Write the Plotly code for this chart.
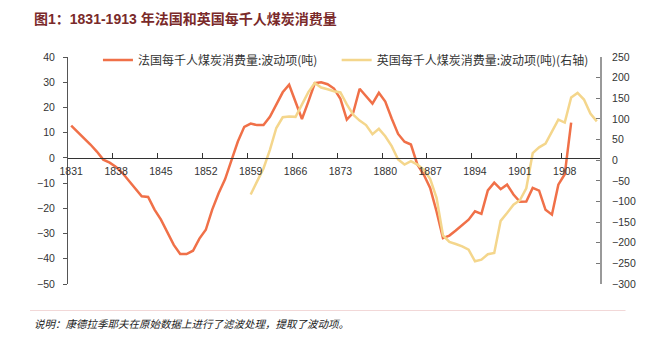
import plotly.graph_objects as go

years_fr = list(range(1831, 1910))
france = [12.8, 10.3, 8.0, 5.3, 2.5, -0.7, -1.9, -3.6, -6.0, -9.0,
          -12.0, -15.2, -15.5, -20.5, -24.5, -29.5, -34.5, -38.1, -38.1, -36.8,
          -32.0, -28.5, -20.5, -14.0, -8.5, -1.0, 6.5, 12.3, 13.6, 13.0,
          13.0, 16.3, 21.0, 26.0, 29.0, 22.3, 15.4, 22.3, 29.6, 30.0,
          29.2, 27.5, 23.4, 15.2, 17.9, 27.4, 24.5, 21.5, 25.8, 22.3,
          15.6, 9.5, 6.4, 5.3, -2.6, -6.6, -11.9, -21.2, -31.8, -30.8,
          -28.8, -26.8, -24.5, -21.2, -22.2, -12.9, -9.8, -12.4, -10.6, -14.5,
          -17.4, -17.3, -11.9, -13.0, -20.6, -22.5, -10.6, -6.5, 14.0]

years_uk = list(range(1859, 1914))
britain = [-83, -52, -20, 25, 78, 104, 106, 105, 135, 165,
           187, 176, 172, 167, 164, 135, 110, 96, 85, 63,
           76, 58, 34, 1.5, -10.7, -2.6, -10.7, -23, -45, -91,
           -182, -198, -203, -209, -217, -245, -241, -228, -225, -147,
           -128, -108, -97, -68, 17, 31, 40, 68, 98, 91,
           152, 163, 147, 113, 94]

tick_years = [1831, 1838, 1845, 1852, 1859, 1866, 1873, 1880, 1887, 1894, 1901, 1908]
left_ticks = [40, 30, 20, 10, 0, -10, -20, -30, -40, -50]
right_ticks = [250, 200, 150, 100, 50, 0, -50, -100, -150, -200, -250, -300]

name_fr = "法国每千人煤炭消费量:波动项(吨)"
name_uk = "英国每千人煤炭消费量:波动项(吨)(右轴)"
title_text = "图1：1831-1913 年法国和英国每千人煤炭消费量"
note_text = "说明：康德拉季耶夫在原始数据上进行了滤波处理，提取了波动项。"

FR_COLOR = "#F07048"
UK_COLOR = "#F4D68C"
CJK = "Liberation Sans, Noto Sans CJK SC, sans-serif"

x_lo, x_hi = tick_years[0] - 0.5, years_uk[-1] + 0.5
y_lo, y_hi = left_ticks[-1], left_ticks[0]
zero_pos = (0 - y_lo) / (y_hi - y_lo)

fig = go.Figure()
fig.add_trace(go.Scatter(x=years_fr, y=france, name=name_fr, mode="lines",
                         legend="legend", line=dict(color=FR_COLOR, width=2.5)))
fig.add_trace(go.Scatter(x=years_uk, y=britain, name=name_uk, mode="lines",
                         legend="legend2", yaxis="y2",
                         line=dict(color=UK_COLOR, width=2.5)))
# helper trace for the boundary tick-mark axis
fig.add_trace(go.Scatter(x=[tick_years[0]], y=[None], xaxis="x2", yaxis="y",
                         showlegend=False, hoverinfo="skip", mode="lines"))

leg_common = dict(orientation="h", y=0.987, xanchor="left", yanchor="middle",
                  font=dict(size=12, color="#333333", family="Noto Sans CJK SC"),
                  bgcolor="rgba(0,0,0,0)", borderwidth=0)

fig.update_layout(
    width=656, height=344,
    margin=dict(l=68, r=55.5, t=57, b=60),
    paper_bgcolor="white", plot_bgcolor="white",
    font=dict(family=CJK, color="#333333"),
    showlegend=True,
    legend=dict(x=0.0563, **leg_common),
    legend2=dict(x=0.505, **leg_common),
    xaxis=dict(range=[x_lo, x_hi], anchor="free", position=zero_pos,
               tickvals=tick_years, ticktext=[str(t) for t in tick_years],
               ticks="", showline=True, linecolor="#333333", linewidth=1,
               showgrid=False, zeroline=False,
               tickfont=dict(size=10.5, color="#333333", family="Liberation Sans"),
               ticklabelstandoff=4),
    xaxis2=dict(range=[x_lo, x_hi], anchor="free", position=zero_pos, overlaying="x",
                tickvals=[t - 0.5 for t in tick_years[1:]], ticks="inside", ticklen=5,
                tickcolor="#333333", showticklabels=False, showline=False,
                showgrid=False, zeroline=False),
    yaxis=dict(range=[y_lo, y_hi], tickvals=left_ticks, showline=True,
               linecolor="#555555", linewidth=1, ticks="outside", ticklen=4,
               tickcolor="#555555", showgrid=False, zeroline=False,
               tickfont=dict(size=10.5, color="#333333", family="Liberation Sans"),
               ticklabelstandoff=6),
    yaxis2=dict(range=[right_ticks[-1], right_ticks[0]], tickvals=right_ticks,
                overlaying="y", side="right", showline=True, linecolor="#999999",
                linewidth=2, ticks="inside", ticklen=4, tickcolor="#777777",
                showgrid=False, zeroline=False,
                tickfont=dict(size=10.5, color="#333333", family="Liberation Sans"),
                ticklabelstandoff=8),
)

fig.add_annotation(text="<b>" + title_text + "</b>", xref="paper", yref="paper",
                   x=-0.0676, y=1.167, xanchor="left", yanchor="middle", showarrow=False,
                   font=dict(size=14, color="#7A2A2A", family=CJK))
fig.add_annotation(text="<i>" + note_text + "</i>", xref="paper", yref="paper",
                   x=-0.0676, y=-0.176, xanchor="left", yanchor="middle", showarrow=False,
                   font=dict(size=10.5, color="#222222", family="Noto Sans CJK SC"))
fig.add_shape(type="line", xref="paper", yref="paper", x0=-0.0714, x1=1.048,
              y0=-0.1167, y1=-0.1167, line=dict(color="#F2D8D8", width=1))

fig.write_html("out.html")
